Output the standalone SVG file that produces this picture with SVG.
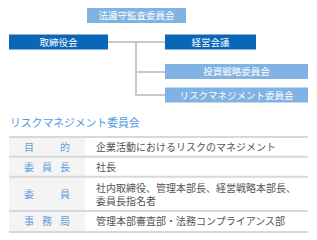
<svg xmlns="http://www.w3.org/2000/svg" width="317" height="240" viewBox="0 0 317 240">
<style>
.dk{fill:#0a66b7}
.lt{fill:#80b3e3}
.bt{fill:#fff;font-family:"Noto Sans CJK JP",sans-serif;font-size:9.5px;text-anchor:middle}
.cn{stroke:#c8c8c8;stroke-width:2;fill:none}
.hd{fill:#f4f4f4}
.rl{stroke:#d8d8d8;stroke-width:2}
.ht{fill:#5a9fde;font-family:"Noto Sans CJK JP",sans-serif;font-size:10px}
.ct{fill:#555;font-family:"Noto Sans CJK JP",sans-serif;font-size:10px}
</style>
<rect width="317" height="240" fill="#fff"/>
<g id="connectors">
<path class="cn" d="M108 42H165M136 42V96M136 72H165M136 95H165"/>
</g>
<g id="audit"><rect class="lt" x="87" y="8" width="99" height="15"/><text class="bt" x="136.5" y="19">法遵守監査委員会</text></g>
<g id="board"><rect class="dk" x="9" y="34.5" width="99" height="15"/><text class="bt" x="58.5" y="45.5">取締役会</text></g>
<g id="mgmt"><rect class="dk" x="165" y="34.5" width="91" height="15"/><text class="bt" x="210.5" y="45.5">経営会議</text></g>
<g id="invest"><rect class="lt" x="165" y="64" width="143" height="15"/><text class="bt" x="236.5" y="75">投資戦略委員会</text></g>
<g id="risk"><rect class="lt" x="165" y="87.5" width="143" height="15"/><text class="bt" x="236.5" y="98.5">リスクマネジメント委員会</text></g>
<g id="table">
<text x="10" y="127" style="fill:#4d9be0;font-family:'Noto Sans CJK JP',sans-serif;font-size:10.8px">リスクマネジメント委員会</text>
<rect class="hd" x="9" y="137" width="76" height="95"/>
<line class="rl" x1="9" y1="137" x2="308" y2="137"/>
<line class="rl" x1="9" y1="156.7" x2="308" y2="156.7"/>
<line class="rl" x1="9" y1="176.7" x2="308" y2="176.7"/>
<line class="rl" x1="9" y1="211" x2="308" y2="211"/>
<line class="rl" x1="9" y1="232" x2="308" y2="232"/>
<text class="ht" y="150.5"><tspan x="24">目</tspan><tspan x="60">的</tspan></text>
<text class="ht" y="170.5"><tspan x="24">委</tspan><tspan x="42">員</tspan><tspan x="60">長</tspan></text>
<text class="ht" y="197.5"><tspan x="24">委</tspan><tspan x="60">員</tspan></text>
<text class="ht" y="225"><tspan x="24">事</tspan><tspan x="42">務</tspan><tspan x="60">局</tspan></text>
<text class="ct" x="96" y="150.5">企業活動におけるリスクのマネジメント</text>
<text class="ct" x="96" y="170.5">社長</text>
<text class="ct" x="96" y="191.5">社内取締役、管理本部長、経営戦略本部長、</text>
<text class="ct" x="96" y="205">委員長指名者</text>
<text class="ct" x="96" y="225">管理本部審査部・法務コンプライアンス部</text>
</g>
</svg>
